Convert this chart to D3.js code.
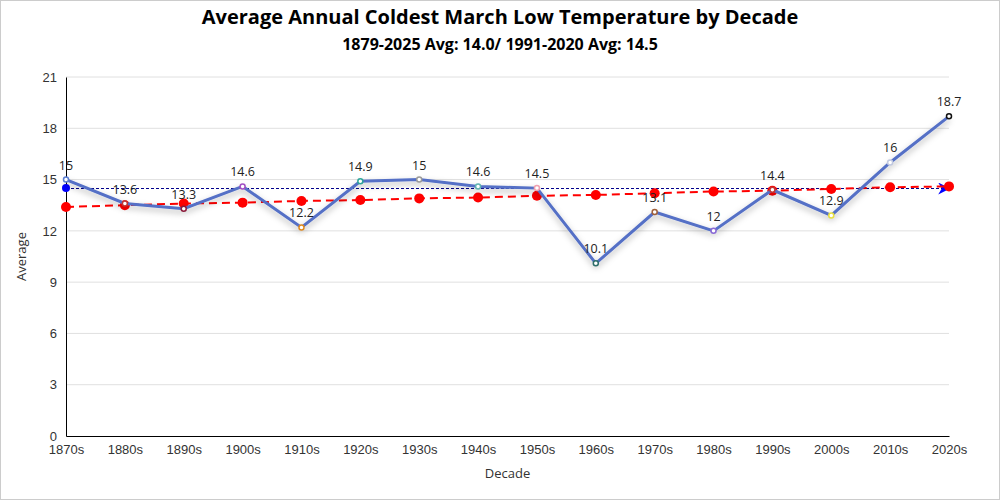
<!DOCTYPE html>
<html>
<head>
<meta charset="utf-8">
<script src="https://cdn.jsdelivr.net/npm/d3@7"></script>
<style>
  body { margin: 0; background: #fff; }
  svg { font-family: "Segoe UI", "Open Sans", "DejaVu Sans", sans-serif; }
</style>
</head>
<body>
<div id="chart"></div>
<script>
// datos
const decades = ["1870s","1880s","1890s","1900s","1910s","1920s","1930s","1940s","1950s","1960s","1970s","1980s","1990s","2000s","2010s","2020s"];
const averages = [15, 13.6, 13.3, 14.6, 12.2, 14.9, 15, 14.6, 14.5, 10.1, 13.1, 12, 14.4, 12.9, 16, 18.7];
const trend = [13.4, 13.5, 13.6, 13.65, 13.75, 13.8, 13.9, 13.95, 14.05, 14.1, 14.2, 14.3, 14.35, 14.45, 14.55, 14.6];
const markerColors = ["#5b7fd6","#c23531","#8b1a3a","#a24fc4","#e08a1e","#2ea59a","#999999","#5fb3b0","#f0a0b0","#2f6f6a","#a0603a","#8a6ad6","#c23531","#e8e040","#c0c8e0","#111111"];
const normal = 14.5;
const yTicks = [0, 3, 6, 9, 12, 15, 18, 21];

const W = 1000, H = 500;
const margin = { top: 77, right: 51, bottom: 64, left: 66 };
const width = W - margin.left - margin.right;
const height = H - margin.top - margin.bottom;

const root = d3.select("#chart").append("svg")
  .attr("width", W)
  .attr("height", H);

// borde
root.append("rect")
  .attr("x", 0.5).attr("y", 0.5)
  .attr("width", W - 1).attr("height", H - 1)
  .attr("fill", "#fff").attr("stroke", "#ccc");

// sombra de la linea
const defs = root.append("defs");
const f = defs.append("filter").attr("id", "shadow")
  .attr("x", "-10%").attr("y", "-10%").attr("width", "120%").attr("height", "130%");
f.append("feDropShadow").attr("dx", 0).attr("dy", 3).attr("stdDeviation", 3)
  .attr("flood-color", "#000").attr("flood-opacity", 0.3);

defs.append("marker").attr("id", "arrow")
  .attr("viewBox", "0 0 10 10").attr("refX", 9).attr("refY", 5)
  .attr("markerWidth", 18).attr("markerHeight", 12)
  .attr("markerUnits", "userSpaceOnUse")
  .attr("orient", "auto")
  .append("path").attr("d", "M0,0 L10,5 L0,10 L3,5 Z").attr("fill", "#0000ff");

// titulos
root.append("text")
  .attr("x", W / 2).attr("y", 24)
  .attr("text-anchor", "middle")
  .style("font-size", "20px").style("font-weight", "bold").attr("fill", "#000")
  .text("Average Annual Coldest March Low Temperature by Decade");
root.append("text")
  .attr("x", W / 2).attr("y", 50)
  .attr("text-anchor", "middle")
  .style("font-size", "16px").style("font-weight", "bold").attr("fill", "#000")
  .text("1879-2025 Avg: 14.0/ 1991-2020 Avg: 14.5");

const svg = root.append("g")
  .attr("transform", `translate(${margin.left},${margin.top})`);

// escalas
const x = d3.scalePoint().domain(decades).range([0, width]);
const y = d3.scaleLinear().domain([0, 21]).range([height, 0]);

// grilla
svg.selectAll(".grid")
  .data(yTicks.filter(d => d > 0))
  .enter().append("line")
  .attr("x1", 0).attr("x2", width)
  .attr("y1", d => y(d)).attr("y2", d => y(d))
  .attr("stroke", "#e0e0e0").attr("stroke-width", 1);

// ejes
const xAxis = svg.append("g")
  .attr("transform", `translate(0,${height})`)
  .call(d3.axisBottom(x).tickSize(0).tickPadding(9));
xAxis.select(".domain").attr("stroke", "#000");
xAxis.selectAll(".tick text").style("font-size", "13px").attr("fill", "#333")
  .style("font-family", "inherit");

const yAxis = svg.append("g")
  .call(d3.axisLeft(y).tickValues(yTicks).tickSize(0).tickPadding(9));
yAxis.select(".domain").attr("stroke", "#000");
yAxis.selectAll(".tick text").style("font-size", "13px").attr("fill", "#333")
  .style("font-family", "inherit");

svg.append("text")
  .attr("x", width / 2).attr("y", height + 42)
  .attr("text-anchor", "middle")
  .style("font-size", "13px").attr("fill", "#333")
  .text("Decade");
svg.append("text")
  .attr("transform", "rotate(-90)")
  .attr("x", -height / 2).attr("y", -40)
  .attr("text-anchor", "middle")
  .style("font-size", "13px").attr("fill", "#333")
  .text("Average");

// linea de promedio 1991-2020
svg.append("line")
  .attr("x1", x(decades[0])).attr("x2", x(decades[decades.length - 1]))
  .attr("y1", Math.round(y(normal)) + 0.5).attr("y2", Math.round(y(normal)) + 0.5)
  .attr("stroke", "#00008b").attr("stroke-width", 1)
  .attr("stroke-dasharray", "3,2")
  .attr("marker-end", "url(#arrow)");
svg.append("circle")
  .attr("cx", x(decades[0])).attr("cy", y(normal))
  .attr("r", 4).attr("fill", "#0000ff");

// linea de tendencia
const trendLine = d3.line()
  .x((d, i) => x(decades[i]))
  .y(d => y(d));
svg.append("path")
  .datum(trend)
  .attr("fill", "none")
  .attr("stroke", "#ff0000")
  .attr("stroke-width", 2)
  .attr("stroke-dasharray", "8,5")
  .attr("d", trendLine);
svg.selectAll(".tdot")
  .data(trend)
  .enter().append("circle")
  .attr("cx", (d, i) => x(decades[i]))
  .attr("cy", d => y(d))
  .attr("r", 5)
  .attr("fill", "#ff0000");

// serie principal
const line = d3.line()
  .x((d, i) => x(decades[i]))
  .y(d => y(d));
svg.append("path")
  .datum(averages)
  .attr("fill", "none")
  .attr("stroke", "#5470c6")
  .attr("stroke-width", 3)
  .attr("filter", "url(#shadow)")
  .attr("d", line);

svg.selectAll(".pt")
  .data(averages)
  .enter().append("circle")
  .attr("cx", (d, i) => x(decades[i]))
  .attr("cy", d => y(d))
  .attr("r", 2.5)
  .attr("fill", "#fff")
  .attr("stroke", (d, i) => markerColors[i])
  .attr("stroke-width", 1.5);

svg.selectAll(".lbl")
  .data(averages)
  .enter().append("text")
  .attr("x", (d, i) => x(decades[i]))
  .attr("y", d => y(d) - 10)
  .attr("text-anchor", "middle")
  .style("font-size", "12.5px")
  .attr("fill", "#222")
  .text(d => d);
</script>
</body>
</html>
